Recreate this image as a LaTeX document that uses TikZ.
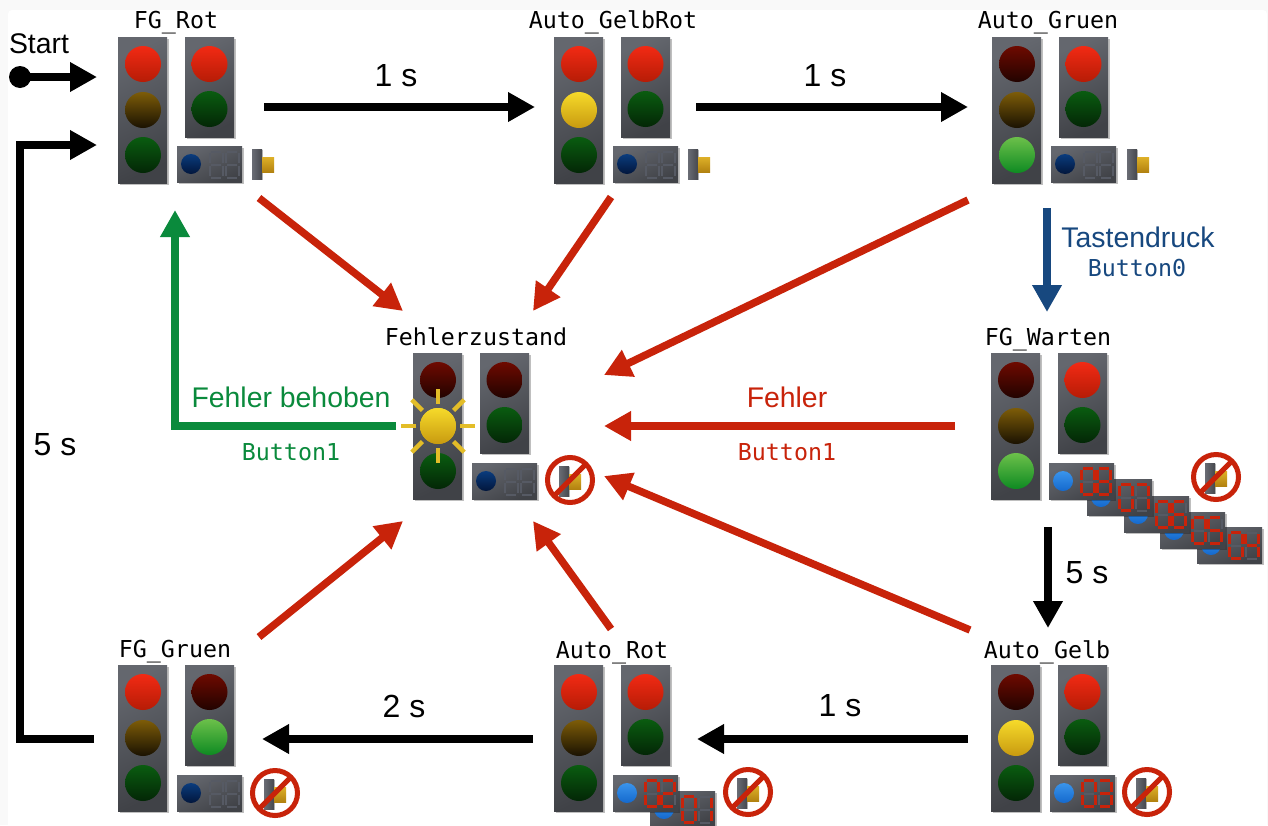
\documentclass[tikz,border=0pt]{standalone}
\usepackage{fontspec}
\setmainfont{Liberation Sans}
\newfontfamily\monof{DejaVu Sans Mono}
\usetikzlibrary{arrows.meta}
\definecolor{cred}{HTML}{C8230A}
\definecolor{cgreen}{HTML}{0A8A3C}
\definecolor{cblue}{HTML}{17487F}
\definecolor{cyel}{HTML}{E3BD28}
\definecolor{cdim}{HTML}{565A64}
\definecolor{cpage}{HTML}{F9F9F9}
\tikzset{
  statelabel/.style={font=\monof\fontsize{23.3}{28}\selectfont,text=black,inner sep=0pt,anchor=base},
  codelabel/.style={font=\monof\fontsize{23.3}{28}\selectfont,inner sep=0pt},
  toplabel/.style={font=\fontsize{28.4}{32}\selectfont,inner sep=0pt},
  timelabel/.style={font=\fontsize{32}{36}\selectfont,inner sep=0pt},
  conn/.style={line width=7.5pt,line join=miter,-{Triangle[length=27pt,width=28pt]}},
  blackconn/.style={conn,draw=black},
  redconn/.style={conn,draw=cred},
  greenconn/.style={conn,draw=cgreen},
  blueconn/.style={conn,draw=cblue},
  boxshadow/.style={fill=black,opacity=.25},
  segon/.style={draw=cred,line width=3.4pt},
  segoff/.style={draw=cdim,line width=2pt},
  lampR/.style={shade,top color={rgb,255:red,242;green,42;blue,20},bottom color={rgb,255:red,182;green,28;blue,6}},
  lampr/.style={shade,top color={rgb,255:red,110;green,10;blue,0},bottom color={rgb,255:red,34;green,3;blue,0}},
  lampY/.style={shade,top color={rgb,255:red,246;green,218;blue,42},bottom color={rgb,255:red,200;green,154;blue,16}},
  lampy/.style={shade,top color={rgb,255:red,125;green,92;blue,8},bottom color={rgb,255:red,26;green,18;blue,2}},
  lampG/.style={shade,top color={rgb,255:red,108;green,192;blue,74},bottom color={rgb,255:red,14;green,138;blue,34}},
  lampg/.style={shade,top color={rgb,255:red,10;green,92;blue,16},bottom color={rgb,255:red,3;green,38;blue,6}},
  lampB/.style={shade,top color={rgb,255:red,58;green,148;blue,235},bottom color={rgb,255:red,20;green,105;blue,205}},
  lampb/.style={shade,top color={rgb,255:red,10;green,60;blue,125},bottom color={rgb,255:red,2;green,22;blue,60}},
}
\newcommand\tlBox[4]{% x y w h (local)
  \fill[boxshadow] (#1+1.5,#2+1.5) rectangle ++(#3,#4);
  \shade[top color={rgb,255:red,100;green,103;blue,110},bottom color={rgb,255:red,64;green,66;blue,71},shading angle=25] (#1,#2) rectangle ++(#3,#4);}
\newcommand\tlTraffic[5]{% origin x,y ; car R,Y,G styles via letters
  \begin{scope}[shift={(#1,#2)}]
    \tlBox{0}{0}{49}{146}
    \path[lamp#3] (25,27) circle (18);
    \path[lamp#4] (25,73) circle (18);
    \path[lamp#5] (25,118) circle (18);
  \end{scope}}
\newcommand\tlPed[4]{% origin x,y ; R,G
  \begin{scope}[shift={(#1,#2)}]
    \tlBox{67}{0}{49}{100}
    \path[lamp#3] (91.5,27) circle (18);
    \path[lamp#4] (91.5,72) circle (18);
  \end{scope}}
\def\sgA#1{\draw[#1] (2,0)--(12,0);}
\def\sgB#1{\draw[#1] (13.5,1.5)--(13.5,11.5);}
\def\sgC#1{\draw[#1] (13.5,14.5)--(13.5,24.5);}
\def\sgD#1{\draw[#1] (2,26)--(12,26);}
\def\sgE#1{\draw[#1] (.5,14.5)--(.5,24.5);}
\def\sgF#1{\draw[#1] (.5,1.5)--(.5,11.5);}
\def\sgG#1{\draw[#1] (2,13)--(12,13);}
\expandafter\def\csname dl0\endcsname{A,B,C,D,E,F}
\expandafter\def\csname dl1\endcsname{B,C}
\expandafter\def\csname dl2\endcsname{A,B,G,E,D}
\expandafter\def\csname dl3\endcsname{A,B,G,C,D}
\expandafter\def\csname dl4\endcsname{F,G,B,C}
\expandafter\def\csname dl5\endcsname{A,F,G,C,D}
\expandafter\def\csname dl6\endcsname{A,F,G,E,C,D}
\expandafter\def\csname dl7\endcsname{A,B,C}
\expandafter\def\csname dl8\endcsname{A,B,C,D,E,F,G}
\newcommand\tlDigit[3]{% x y digit or x
  \begin{scope}[shift={(#1,#2)}]
    \foreach \s in {A,B,C,D,E,F,G} {\csname sg\s\endcsname{segoff}}
    \ifcsname dl#3\endcsname
      \edef\curlist{\csname dl#3\endcsname}
      \foreach \s in \curlist {\csname sg\s\endcsname{segon}}
    \fi
  \end{scope}}
\newcommand\tlPanel[5]{% x y lampstyle d1 d2
  \begin{scope}[shift={(#1,#2)}]
    \tlBox{0}{0}{65}{36}
    \path[lamp#3] (14,18) circle (10);
    \tlDigit{32}{5.5}{#4}
    \tlDigit{48}{5.5}{#5}
  \end{scope}}
\newcommand\tlButton[2]{% x y top-left of housing
  \begin{scope}[shift={(#1,#2)}]
    \fill[black,opacity=.25] (1,1) rectangle ++(10,30);
    \shade[left color={rgb,255:red,105;green,108;blue,116},right color={rgb,255:red,70;green,72;blue,78}] (0,0) rectangle ++(10,30);
    \shade[top color={rgb,255:red,222;green,176;blue,40},bottom color={rgb,255:red,178;green,130;blue,16}] (10,8) rectangle ++(12,15);
  \end{scope}}
\newcommand\tlForbid[2]{% centre of forbidden button
  \tlButton{#1-11}{#2-14}
  \draw[cred,line width=5pt] (#1,#2) circle (22.5);
  \draw[cred,line width=5pt] (#1-16,#2+16) -- (#1+16,#2-16);}
\begin{document}
\begin{tikzpicture}[x=1pt,y=-1pt]
\useasboundingbox (0,0) rectangle (1268,825);
\fill[cpage] (0,0) rectangle (1268,825);
\fill[white,rounded corners=4pt] (8,10) rectangle (1267,830);

% ---- states
\tlTraffic{118}{37}{R}{y}{g}\tlPed{118}{37}{R}{g}\tlPanel{177}{146}{b}{x}{x}\tlButton{252}{149}
\tlTraffic{554}{37}{R}{Y}{g}\tlPed{554}{37}{R}{g}\tlPanel{613}{146}{b}{x}{x}\tlButton{688}{149}
\tlTraffic{992}{37}{r}{y}{G}\tlPed{992}{37}{R}{g}\tlPanel{1051}{146}{b}{x}{x}\tlButton{1127}{149}

\tlTraffic{413}{353}{r}{Y}{g}\tlPed{413}{353}{r}{g}\tlPanel{472}{463}{b}{x}{x}\tlForbid{570}{480}
\foreach \a in {0,45,...,315}
  \draw[cyel,line width=4.5pt] (438,426) ++(\a:22) -- ++(\a:15);
\path[lampY] (438,426) circle (18);

\tlTraffic{991}{353}{r}{y}{G}\tlPed{991}{353}{R}{g}
\tlPanel{1197}{527}{B}{0}{4}\tlPanel{1160}{512}{B}{0}{5}\tlPanel{1124}{496}{B}{0}{6}\tlPanel{1087}{479}{B}{0}{7}\tlPanel{1049}{463}{B}{0}{8}
\tlForbid{1216}{477}

\tlTraffic{991}{665}{r}{Y}{g}\tlPed{991}{665}{R}{g}\tlPanel{1050}{775}{B}{0}{3}\tlForbid{1147}{792}
\tlTraffic{554}{665}{R}{y}{g}\tlPed{554}{665}{R}{g}\tlPanel{650}{791}{B}{0}{1}\tlPanel{613}{775}{B}{0}{2}\tlForbid{748}{792}
\tlTraffic{118}{665}{R}{y}{g}\tlPed{118}{665}{r}{G}\tlPanel{177}{775}{b}{x}{x}\tlForbid{275}{793}

% ---- state labels
\node[statelabel] (lRot) at (176,28) {FG\_Rot};
\node[statelabel] (lGelbRot) at (613,28) {Auto\_GelbRot};
\node[statelabel] (lGruen) at (1048,28) {Auto\_Gruen};
\node[statelabel] (lFehler) at (476,345) {Fehlerzustand};
\node[statelabel] (lWarten) at (1048,345) {FG\_Warten};
\node[statelabel] (lGelb) at (1047,658) {Auto\_Gelb};
\node[statelabel] (lARot) at (612,658) {Auto\_Rot};
\node[statelabel] (lFGGruen) at (175,657) {FG\_Gruen};

% ---- ports
\coordinate (startP) at (20,77);
\coordinate (rotIn) at (97,77);
\coordinate (rotBack) at (97,145);
\coordinate (rotE) at (264,107);
\coordinate (grW) at (535,107);
\coordinate (grE) at (696,107);
\coordinate (gruenW) at (968,107);
\coordinate (gruenS) at (1047,208);
\coordinate (wartenN) at (1047,312);
\coordinate (wartenS) at (1048,527);
\coordinate (gelbN) at (1048,628);
\coordinate (gelbW) at (968,739);
\coordinate (arotE) at (697,739);
\coordinate (arotW) at (533,739);
\coordinate (fggE) at (262,739);
\coordinate (fggW) at (94,739);
\coordinate (backC1) at (20,739);
\coordinate (backC2) at (20,145);
\coordinate (errGW) at (396,426);
\coordinate (errGC) at (175,426);
\coordinate (rotS) at (175,210);
\coordinate (wartenW) at (955,426);
\coordinate (errE) at (604,426);
\coordinate (gruenSW) at (968,200);
\coordinate (errNE) at (604,375);
\coordinate (gelbNW) at (970,630);
\coordinate (errSE) at (604,476);
\coordinate (grS) at (611,197);
\coordinate (errN) at (533,311);
\coordinate (rotSE) at (259,198);
\coordinate (errNW) at (403,311);
\coordinate (fggNE) at (259,637);
\coordinate (errSW) at (403,521);
\coordinate (arotN) at (611,629);
\coordinate (errS) at (533,521);

% ---- connectors
\fill[black] (startP) circle (11);
\draw[blackconn] (startP) -- (rotIn);
\draw[blackconn] (fggW) -- (backC1) -- (backC2) -- (rotBack);
\draw[blackconn] (rotE) -- (grW);
\draw[blackconn] (grE) -- (gruenW);
\draw[blueconn] (gruenS) -- (wartenN);
\draw[blackconn] (wartenS) -- (gelbN);
\draw[blackconn] (gelbW) -- (arotE);
\draw[blackconn] (arotW) -- (fggE);
\draw[greenconn] (errGW) -- (errGC) -- (rotS);
\draw[redconn] (wartenW) -- (errE);
\draw[redconn] (gruenSW) -- (errNE);
\draw[redconn] (gelbNW) -- (errSE);
\draw[redconn] (grS) -- (errN);
\draw[redconn] (rotSE) -- (errNW);
\draw[redconn] (fggNE) -- (errSW);
\draw[redconn] (arotN) -- (errS);

% ---- connector labels
\node[toplabel] (tStart) at (39,44) {Start};
\node[timelabel] (t1a) at (396,76) {1 s};
\node[timelabel] (t1b) at (825,76) {1 s};
\node[toplabel,text=cblue] (tTaste) at (1138,237) {Tastendruck};
\node[codelabel,text=cblue] (tB0) at (1137,268) {Button0};
\node[toplabel,text=cgreen] (tBehoben) at (291,397) {Fehler behoben};
\node[codelabel,text=cgreen] (tB1a) at (291,452) {Button1};
\node[toplabel,text=cred] (tFehler) at (787,397) {Fehler};
\node[codelabel,text=cred] (tB1b) at (787,452) {Button1};
\node[timelabel] (t5a) at (55,445) {5 s};
\node[timelabel] (t5b) at (1087,573) {5 s};
\node[timelabel] (t1c) at (840,706) {1 s};
\node[timelabel] (t2) at (404,706) {2 s};
\end{tikzpicture}
\end{document}
